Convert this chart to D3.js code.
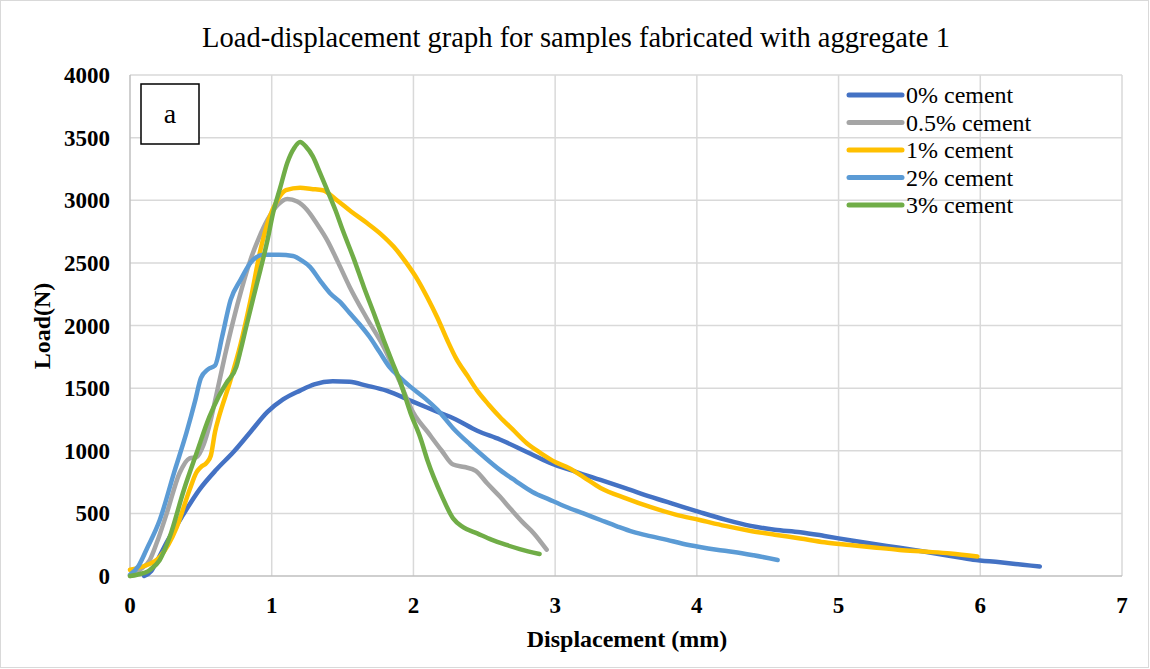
<!DOCTYPE html>
<html lang="en">
<head>
<meta charset="UTF-8">
<title>Load-displacement graph</title>
<style>
  body { margin: 0; padding: 0; background: #fff; }
  svg text { font-family: "Liberation Serif", "Times New Roman", "DejaVu Serif", serif; fill: #000; }
  .grid line { stroke: #d9d9d9; stroke-width: 1.5; }
  .tick-label { font-weight: bold; font-size: 23px; }
  .axis-title { font-weight: bold; font-size: 24px; }
</style>
</head>
<body>
<div id="chart"></div>
<script src="https://cdn.jsdelivr.net/npm/d3@7"></script>
<script>
// data: [displacement (mm), load (N)]
const cement0 = [[0.10,0],[0.15,40],[0.2,140],[0.26,270],[0.37,480],[0.49,690],[0.61,850],[0.73,990],[0.85,1150],[0.97,1310],[1.08,1410],[1.2,1480],[1.3,1530],[1.43,1555],[1.55,1550],[1.67,1520],[1.81,1480],[2.0,1390],[2.15,1320],[2.3,1250],[2.45,1160],[2.61,1090],[2.8,990],[2.96,905],[3.15,830],[3.32,767],[3.5,700],[3.67,634],[3.85,570],[4.02,510],[4.2,450],[4.38,400],[4.55,370],[4.73,350],[4.9,320],[5.08,285],[5.25,255],[5.43,225],[5.6,195],[5.79,160],[5.95,130],[6.14,110],[6.3,90],[6.42,75]];
const cement05 = [[0,0],[0.07,50],[0.14,128],[0.2,300],[0.26,503],[0.35,822],[0.42,940],[0.47,950],[0.52,1050],[0.56,1200],[0.61,1450],[0.67,1760],[0.73,2045],[0.79,2300],[0.85,2524],[0.91,2700],[0.97,2843],[1.04,2960],[1.11,3010],[1.18,2990],[1.25,2923],[1.32,2810],[1.39,2684],[1.47,2500],[1.55,2308],[1.67,2060],[1.79,1829],[1.9,1560],[2.0,1302],[2.1,1150],[2.2,1000],[2.28,890],[2.36,870],[2.44,840],[2.52,740],[2.61,634],[2.69,530],[2.77,430],[2.85,340],[2.94,210]];
const cement1 = [[0,50],[0.1,80],[0.21,152],[0.33,391],[0.42,687],[0.47,830],[0.5,870],[0.54,903],[0.57,960],[0.6,1150],[0.63,1280],[0.7,1530],[0.78,1850],[0.85,2200],[0.92,2600],[0.98,2850],[1.04,3000],[1.1,3080],[1.2,3100],[1.28,3090],[1.36,3080],[1.46,3000],[1.56,2910],[1.67,2820],[1.77,2730],[1.86,2630],[1.95,2500],[2.03,2365],[2.1,2220],[2.17,2060],[2.24,1880],[2.3,1740],[2.38,1600],[2.45,1480],[2.53,1370],[2.61,1270],[2.7,1170],[2.8,1060],[2.9,980],[3.0,910],[3.1,860],[3.2,790],[3.32,703],[3.5,620],[3.67,551],[3.85,490],[4.02,447],[4.2,400],[4.38,360],[4.55,330],[4.73,300],[4.9,270],[5.08,248],[5.25,228],[5.43,208],[5.6,195],[5.79,180],[5.98,155]];
const cement2 = [[0,10],[0.06,80],[0.12,220],[0.21,447],[0.31,822],[0.40,1150],[0.46,1400],[0.5,1580],[0.55,1650],[0.6,1680],[0.65,1910],[0.71,2205],[0.78,2364],[0.85,2500],[0.94,2564],[1.05,2565],[1.15,2555],[1.21,2520],[1.27,2468],[1.34,2360],[1.41,2260],[1.48,2190],[1.55,2100],[1.62,2010],[1.69,1910],[1.76,1790],[1.83,1670],[1.9,1590],[1.98,1510],[2.08,1420],[2.17,1326],[2.28,1180],[2.4,1050],[2.5,950],[2.61,847],[2.72,760],[2.84,671],[2.96,610],[3.08,551],[3.2,500],[3.32,447],[3.44,395],[3.55,352],[3.67,318],[3.79,288],[3.9,258],[4.02,232],[4.14,210],[4.26,192],[4.4,165],[4.57,128]];
const cement3 = [[0,0],[0.05,10],[0.14,48],[0.21,128],[0.28,311],[0.38,687],[0.47,982],[0.56,1270],[0.62,1420],[0.68,1540],[0.75,1670],[0.78,1800],[0.82,1990],[0.87,2220],[0.92,2444],[0.97,2680],[1.01,2900],[1.06,3100],[1.11,3300],[1.16,3420],[1.2,3465],[1.24,3430],[1.29,3350],[1.34,3220],[1.39,3085],[1.45,2920],[1.5,2764],[1.58,2530],[1.65,2308],[1.72,2100],[1.79,1885],[1.85,1710],[1.91,1540],[1.98,1300],[2.05,1100],[2.1,920],[2.2,640],[2.28,460],[2.35,390],[2.45,340],[2.55,290],[2.65,250],[2.75,215],[2.89,176]];

const seriesNames = ["0% cement", "0.5% cement", "1% cement", "2% cement", "3% cement"];
const seriesColors = ["#4472c4", "#a5a5a5", "#ffc000", "#5b9bd5", "#70ad47"];
const seriesData = [cement0, cement05, cement1, cement2, cement3];
const xTicks = [0, 1, 2, 3, 4, 5, 6, 7];
const yTicks = [0, 500, 1000, 1500, 2000, 2500, 3000, 3500, 4000];

const W = 1150, H = 669;
const plotLeft = 130, plotRight = 1122, plotTop = 75, plotBottom = 576;

const svg = d3.select("#chart").append("svg")
  .attr("width", W).attr("height", H)
  .style("display", "block");

// chart border
svg.append("rect")
  .attr("x", 0.5).attr("y", 0.5)
  .attr("width", W - 2).attr("height", H - 2)
  .attr("fill", "#fff").attr("stroke", "#d9d9d9");

const x = d3.scaleLinear().domain([0, 7]).range([plotLeft, plotRight]);
const y = d3.scaleLinear().domain([0, 4000]).range([plotBottom, plotTop]);

// grid
const grid = svg.append("g").attr("class", "grid");
grid.selectAll(".h").data(yTicks.slice(1)).enter().append("line")
  .attr("x1", plotLeft).attr("x2", plotRight)
  .attr("y1", d => y(d)).attr("y2", d => y(d));
grid.selectAll(".v").data(xTicks.slice(1)).enter().append("line")
  .attr("y1", plotTop).attr("y2", plotBottom)
  .attr("x1", d => x(d)).attr("x2", d => x(d));

// axis lines
svg.append("line").attr("x1", plotLeft).attr("x2", plotRight).attr("y1", plotBottom).attr("y2", plotBottom)
  .attr("stroke", "#bfbfbf").attr("stroke-width", 1.5);
svg.append("line").attr("x1", plotLeft).attr("x2", plotLeft).attr("y1", plotTop).attr("y2", plotBottom)
  .attr("stroke", "#bfbfbf").attr("stroke-width", 1.5);

// tick labels
svg.selectAll(".ylab").data(yTicks).enter().append("text")
  .attr("class", "tick-label")
  .attr("x", 110).attr("y", d => y(d) + 8)
  .attr("text-anchor", "end")
  .text(d => d);
svg.selectAll(".xlab").data(xTicks).enter().append("text")
  .attr("class", "tick-label")
  .attr("x", d => x(d)).attr("y", 613)
  .attr("text-anchor", "middle")
  .text(d => d);

// titles
svg.append("text")
  .attr("x", 576).attr("y", 47)
  .attr("text-anchor", "middle")
  .attr("font-size", 28.5)
  .text("Load-displacement graph for samples fabricated with aggregate 1");
svg.append("text").attr("class", "axis-title")
  .attr("x", 627).attr("y", 647)
  .attr("text-anchor", "middle")
  .text("Displacement (mm)");
svg.append("text").attr("class", "axis-title")
  .attr("transform", "translate(50,326) rotate(-90)")
  .attr("text-anchor", "middle")
  .text("Load(N)");

// lines
const line = d3.line()
  .x(d => x(d[0]))
  .y(d => y(d[1]))
  .curve(d3.curveMonotoneX);

svg.selectAll(".series").data(seriesData).enter().append("path")
  .attr("d", line)
  .attr("fill", "none")
  .attr("stroke", (d, i) => seriesColors[i])
  .attr("stroke-width", 4.5)
  .attr("stroke-linecap", "round")
  .attr("stroke-linejoin", "round");

// "a" label box
svg.append("rect")
  .attr("x", 141).attr("y", 84).attr("width", 58).attr("height", 60)
  .attr("fill", "#fff").attr("stroke", "#000").attr("stroke-width", 1.5);
svg.append("text")
  .attr("x", 170).attr("y", 123)
  .attr("text-anchor", "middle")
  .attr("font-size", 28)
  .text("a");

// legend
const legend = svg.append("g");
const rows = legend.selectAll("g").data(seriesNames).enter().append("g")
  .attr("transform", (d, i) => `translate(0,${95 + i * 27.5})`);
rows.append("line")
  .attr("x1", 849).attr("x2", 902)
  .attr("stroke", (d, i) => seriesColors[i])
  .attr("stroke-width", 5)
  .attr("stroke-linecap", "round");
rows.append("text")
  .attr("x", 906).attr("y", 8)
  .attr("font-size", 24)
  .text(d => d);
</script>
</body>
</html>
